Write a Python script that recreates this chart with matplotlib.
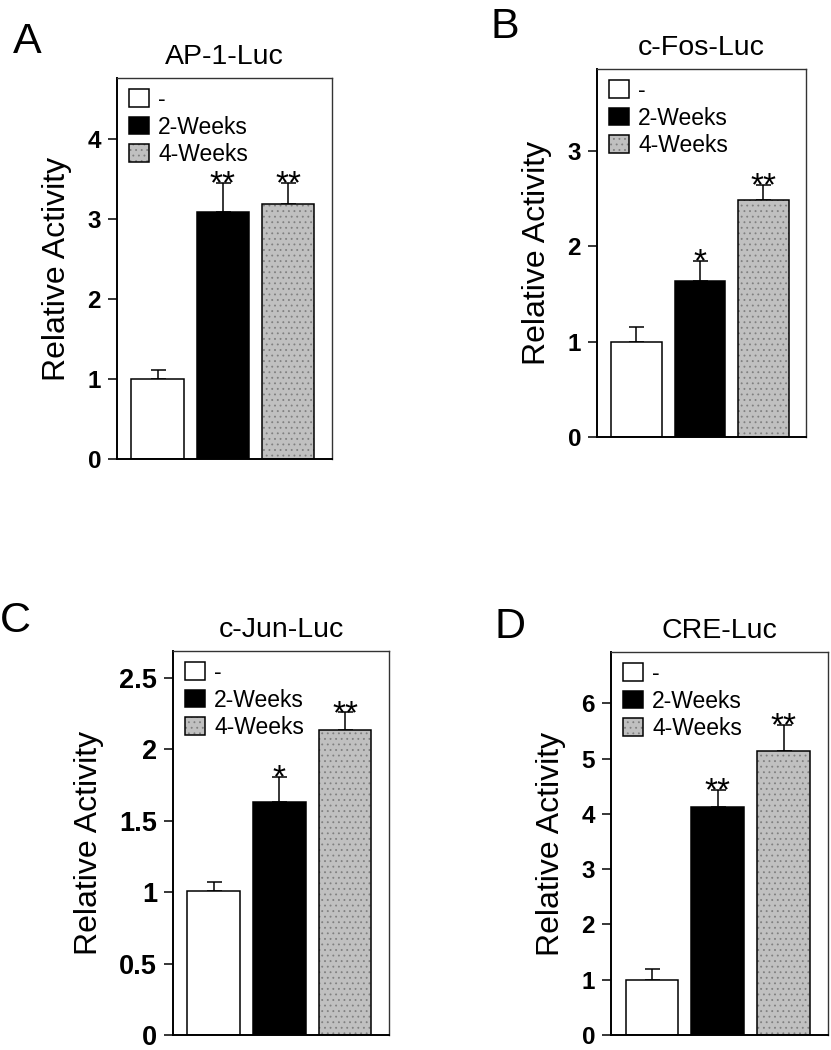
import matplotlib
matplotlib.use("Agg")
import matplotlib.pyplot as plt
from matplotlib.patches import Patch
from matplotlib.legend_handler import HandlerTuple

plt.rcParams['font.family'] = ['Liberation Sans', 'DejaVu Sans']
plt.rcParams['hatch.linewidth'] = 0.6

groups = ['-', '2-Weeks', '4-Weeks']

# panel A: AP-1-Luc
ap1_means = [1.0, 3.09, 3.19]
ap1_errs = [0.11, 0.36, 0.26]
ap1_stars = ['', '**', '**']
ap1_ticks = [0, 1, 2, 3, 4]

# panel B: c-Fos-Luc
fos_means = [1.0, 1.64, 2.49]
fos_errs = [0.15, 0.21, 0.15]
fos_stars = ['', '*', '**']
fos_ticks = [0, 1, 2, 3]

# panel C: c-Jun-Luc
jun_means = [1.01, 1.63, 2.14]
jun_errs = [0.06, 0.18, 0.12]
jun_stars = ['', '*', '**']
jun_ticks = [0, 0.5, 1, 1.5, 2, 2.5]

# panel D: CRE-Luc
cre_means = [1.0, 4.13, 5.14]
cre_errs = [0.19, 0.30, 0.47]
cre_stars = ['', '**', '**']
cre_ticks = [0, 1, 2, 3, 4, 5, 6]

W, H = 831, 1050
fig = plt.figure(figsize=(W / 100, H / 100), dpi=100)

face = ['white', 'black', '#c0c0c0']
dot_col = '#808080'

# (letter, title, means, errs, stars, ticks, ytop, rect px [l, t, r, b], letter xy px, tick size)
panels = [
    ('A', 'AP-1-Luc', ap1_means, ap1_errs, ap1_stars, ap1_ticks, 4.76, [117, 78, 332, 459], (13, 53), 17.5),
    ('B', 'c-Fos-Luc', fos_means, fos_errs, fos_stars, fos_ticks, 3.86, [597, 69, 806, 437], (490, 38), 17.5),
    ('C', 'c-Jun-Luc', jun_means, jun_errs, jun_stars, jun_ticks, 2.69, [173, 651, 389, 1035], (0, 632), 19.5),
    ('D', 'CRE-Luc', cre_means, cre_errs, cre_stars, cre_ticks, 6.93, [611, 652, 828, 1035], (495, 638), 17.5),
]

for letter, title, means, errs, stars, ticks, ytop, (l, t, r, b), (lx, ly), tsize in panels:
    ax = fig.add_axes([l / W, 1 - b / H, (r - l) / W, (b - t) / H])
    x = list(range(len(means)))

    # fill (gray bar gets a dotted texture), then black outline on top
    ax.bar(x, means, width=0.8, color=face, edgecolor=['white', 'black', dot_col],
           hatch=[None, None, '...'], linewidth=0, zorder=2)
    ax.bar(x, means, width=0.8, fill=False, edgecolor='black', linewidth=1.1, zorder=3)
    ax.errorbar(x, means, yerr=[[0] * len(errs), errs], fmt='none', ecolor='black',
                elinewidth=1.1, capsize=5.4, capthick=1.1, zorder=1)

    for xi, m, e, s in zip(x, means, errs, stars):
        if s:
            ax.annotate(s, (xi, m + e), xytext=(0, -7.5), textcoords='offset points',
                        ha='center', va='baseline', fontsize=24)

    ax.set_xlim(-0.62, 2.67)
    ax.set_ylim(0, ytop)
    ax.set_xticks([])
    ax.set_yticks(ticks)
    ax.set_yticklabels(['{:g}'.format(v) for v in ticks], fontsize=tsize, fontweight='bold')
    ax.tick_params(axis='y', direction='out', length=6.5, width=1.1, pad=5)
    for side in ['left', 'bottom']:
        ax.spines[side].set_linewidth(1.4)
    for side in ['top', 'right']:
        ax.spines[side].set_linewidth(1.0)
        ax.spines[side].set_color('#333333')

    ax.set_ylabel('Relative Activity', fontsize=23, labelpad=11)
    ax.set_title(title, fontsize=20.5, pad=10)

    handles = [
        Patch(facecolor='white', edgecolor='black', linewidth=1.1),
        Patch(facecolor='black', edgecolor='black', linewidth=1.1),
        (Patch(facecolor=face[2], edgecolor=dot_col, hatch='...', linewidth=0),
         Patch(fill=False, edgecolor='black', linewidth=1.1)),
    ]
    ax.legend(handles, groups, loc='upper left',
              bbox_to_anchor=(12 / (r - l), 1 - 10 / (b - t)),
              frameon=False, borderpad=0, borderaxespad=0, fontsize=16.5,
              handlelength=0.88, handleheight=0.8, handletextpad=0.4,
              labelspacing=0.2, handler_map={tuple: HandlerTuple(ndivide=1, pad=0)})

    fig.text(lx / W, 1 - ly / H, letter, fontsize=31, ha='left', va='baseline')

fig.savefig('out.png', dpi=100)
